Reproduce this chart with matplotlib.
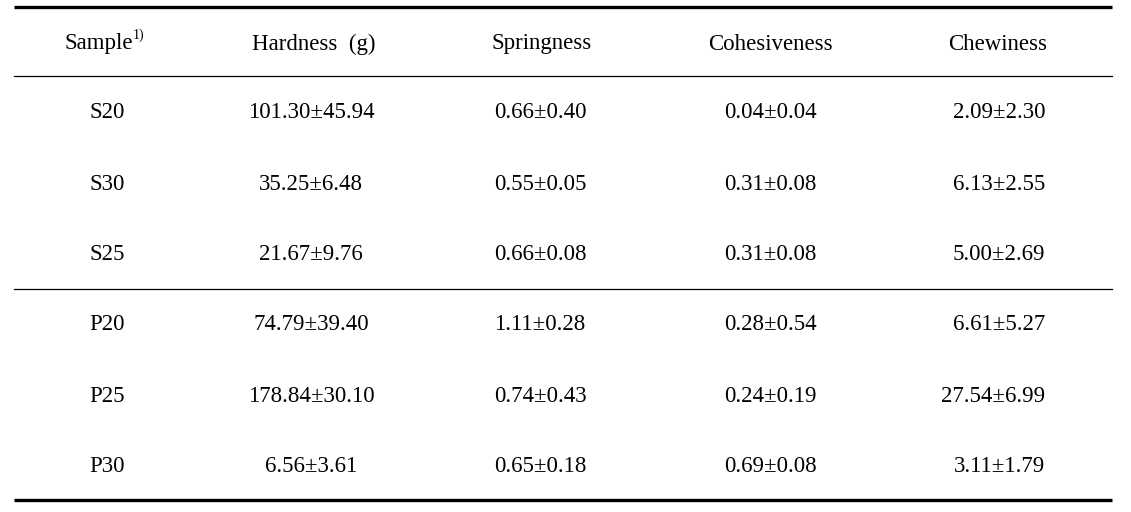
import matplotlib.pyplot as plt

plt.rcParams['font.family'] = ['Liberation Serif', 'DejaVu Serif']

columns = ['Hardness  (g)', 'Springness', 'Cohesiveness', 'Chewiness']
samples = ['S20', 'S30', 'S25', 'P20', 'P25', 'P30']
hardness = ['101.30±45.94', '35.25±6.48', '21.67±9.76', '74.79±39.40', '178.84±30.10', '6.56±3.61']
springness = ['0.66±0.40', '0.55±0.05', '0.66±0.08', '1.11±0.28', '0.74±0.43', '0.65±0.18']
cohesiveness = ['0.04±0.04', '0.31±0.08', '0.31±0.08', '0.28±0.54', '0.24±0.19', '0.69±0.08']
chewiness = ['2.09±2.30', '6.13±2.55', '5.00±2.69', '6.61±5.27', '27.54±6.99', '3.11±1.79']

W, H = 1131, 512
fig = plt.figure(figsize=(W / 100, H / 100), dpi=100)
ax = fig.add_axes([0, 0, 1, 1])
ax.set_xlim(0, W)
ax.set_ylim(H, 0)
ax.axis('off')

fs = 16.5
col_x = [311, 540, 770, 998]
row_y = [112, 184, 254, 325, 396, 467]
head_y = 44

# rules
ax.plot([14, 1112], [7, 7], color='black', lw=2.4, solid_capstyle='butt')
ax.plot([14, 1112], [76, 76], color='black', lw=0.9)
ax.plot([14, 1112], [289, 289], color='black', lw=0.9)
ax.plot([14, 1112], [500, 500], color='black', lw=2.4, solid_capstyle='butt')

# header
ax.text(133, head_y, 'Sample', fontsize=fs, ha='right', va='center')
ax.text(133, head_y - 9, '1)', fontsize=10, ha='left', va='center')
hx = [314, 542, 770, 998]
for x, c in zip(hx, columns):
    ax.text(x, head_y, c, fontsize=fs, ha='center', va='center')

# body
for i, y in enumerate(row_y):
    ax.text(107, y, samples[i], fontsize=fs, ha='center', va='center')
    ax.text(col_x[0], y, hardness[i], fontsize=fs, ha='center', va='center')
    ax.text(col_x[1], y, springness[i], fontsize=fs, ha='center', va='center')
    ax.text(col_x[2], y, cohesiveness[i], fontsize=fs, ha='center', va='center')
    ax.text(1045, y, chewiness[i], fontsize=fs, ha='right', va='center')

fig.savefig('out.png', dpi=100)
